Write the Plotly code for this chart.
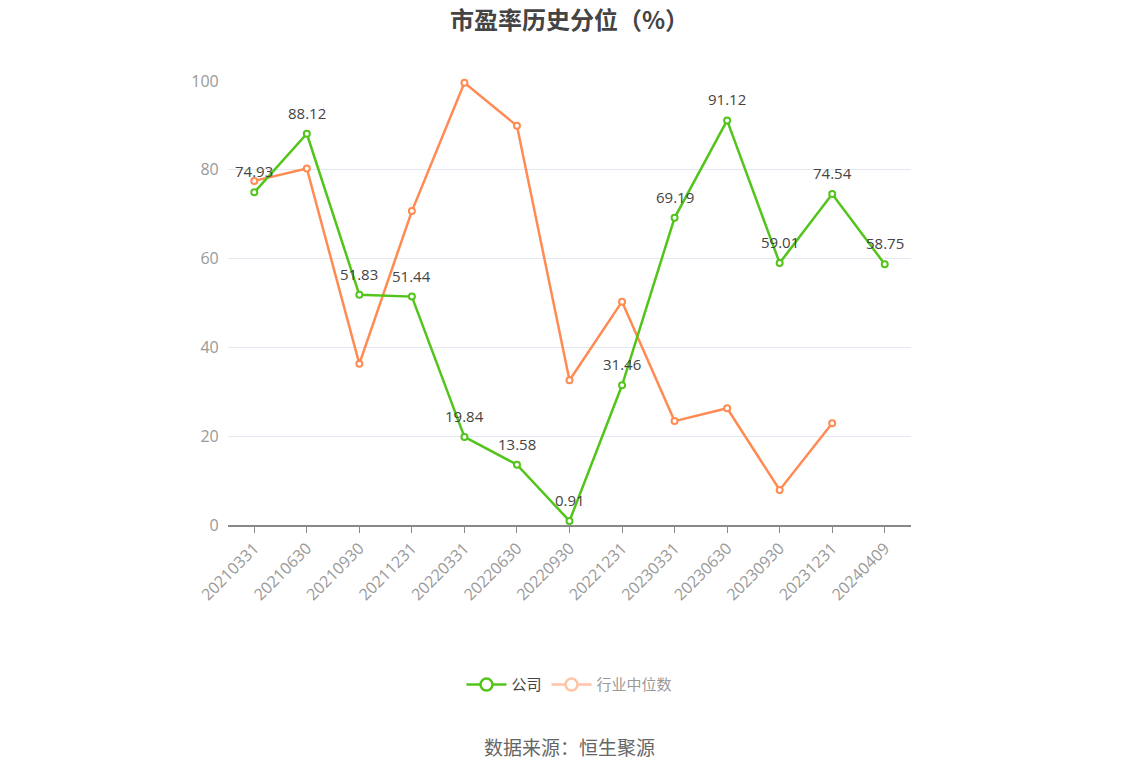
import plotly.graph_objects as go

dates = ["20210331", "20210630", "20210930", "20211231", "20220331", "20220630", "20220930",
         "20221231", "20230331", "20230630", "20230930", "20231231", "20240409"]
company = [74.93, 88.12, 51.83, 51.44, 19.84, 13.58, 0.91, 31.46, 69.19, 91.12, 59.01, 74.54, 58.75]
industry = [77.5, 80.3, 36.3, 70.7, 99.6, 89.9, 32.6, 50.3, 23.4, 26.3, 7.9, 22.9, None]

green = "#52C41A"
orange = "#FF8A52"

fig = go.Figure()
fig.add_trace(go.Scatter(x=dates, y=industry, mode="lines+markers", name="行业中位数",
                         line=dict(color=orange, width=2.5),
                         marker=dict(symbol="circle", size=6, color="white", line=dict(color=orange, width=2)),
                         showlegend=False, cliponaxis=False))
fig.add_trace(go.Scatter(x=dates, y=company, mode="lines+markers", name="公司",
                         line=dict(color=green, width=2.5),
                         marker=dict(symbol="circle", size=6, color="white", line=dict(color=green, width=2)),
                         showlegend=False, cliponaxis=False))

# value labels above the company points (category index as x)
for i, v in enumerate(company):
    fig.add_annotation(x=i, y=v, text="%.2f" % v, showarrow=False, yanchor="middle", yshift=21,
                       font=dict(size=15, color="#444"))

# legend entries
fig.add_trace(go.Scatter(x=[None], y=[None], mode="lines+markers", name="公司",
                         line=dict(color=green, width=2.5),
                         marker=dict(size=12, color="white", line=dict(color=green, width=2.5))))
fig.add_trace(go.Scatter(x=[None], y=[None], mode="lines+markers",
                         name="<span style='color:#999'>行业中位数</span>",
                         opacity=0.5,
                         line=dict(color=orange, width=2.5),
                         marker=dict(size=12, color="white", line=dict(color=orange, width=2.5))))

fig.add_annotation(text="数据来源：恒生聚源", x=0.5, xref="paper", y=-0.534, yref="paper",
                   showarrow=False, font=dict(size=19, color="#666", family="Noto Sans CJK SC"))

fig.update_layout(
    width=1148, height=776,
    margin=dict(l=220, r=245, t=73, b=259),
    paper_bgcolor="white", plot_bgcolor="white",
    font=dict(family="Open Sans, Noto Sans CJK SC, sans-serif"),
    title=dict(text="<b>市盈率历史分位（%）</b>", x=0.5, xref="paper", y=0.994, yanchor="top",
               font=dict(size=24, color="#444", family="Noto Sans CJK SC")),
    legend=dict(orientation="h", x=0.5, xanchor="center", y=-0.36, yanchor="middle",
                font=dict(size=15, color="#444", family="Noto Sans CJK SC"), itemwidth=40),
)
fig.update_xaxes(type="category", range=[-0.5, 12.5], tickangle=-45,
                 tickfont=dict(size=16, color="#999"),
                 showline=True, linecolor="#888", linewidth=1.5,
                 ticks="outside", ticklen=6, tickcolor="#888", showgrid=False)
fig.update_yaxes(range=[0, 100], dtick=20, tickfont=dict(size=16, color="#999"),
                 gridcolor="#E3E7EF", zeroline=False, ticks="", ticksuffix="  ")

fig.write_html("out.html")
